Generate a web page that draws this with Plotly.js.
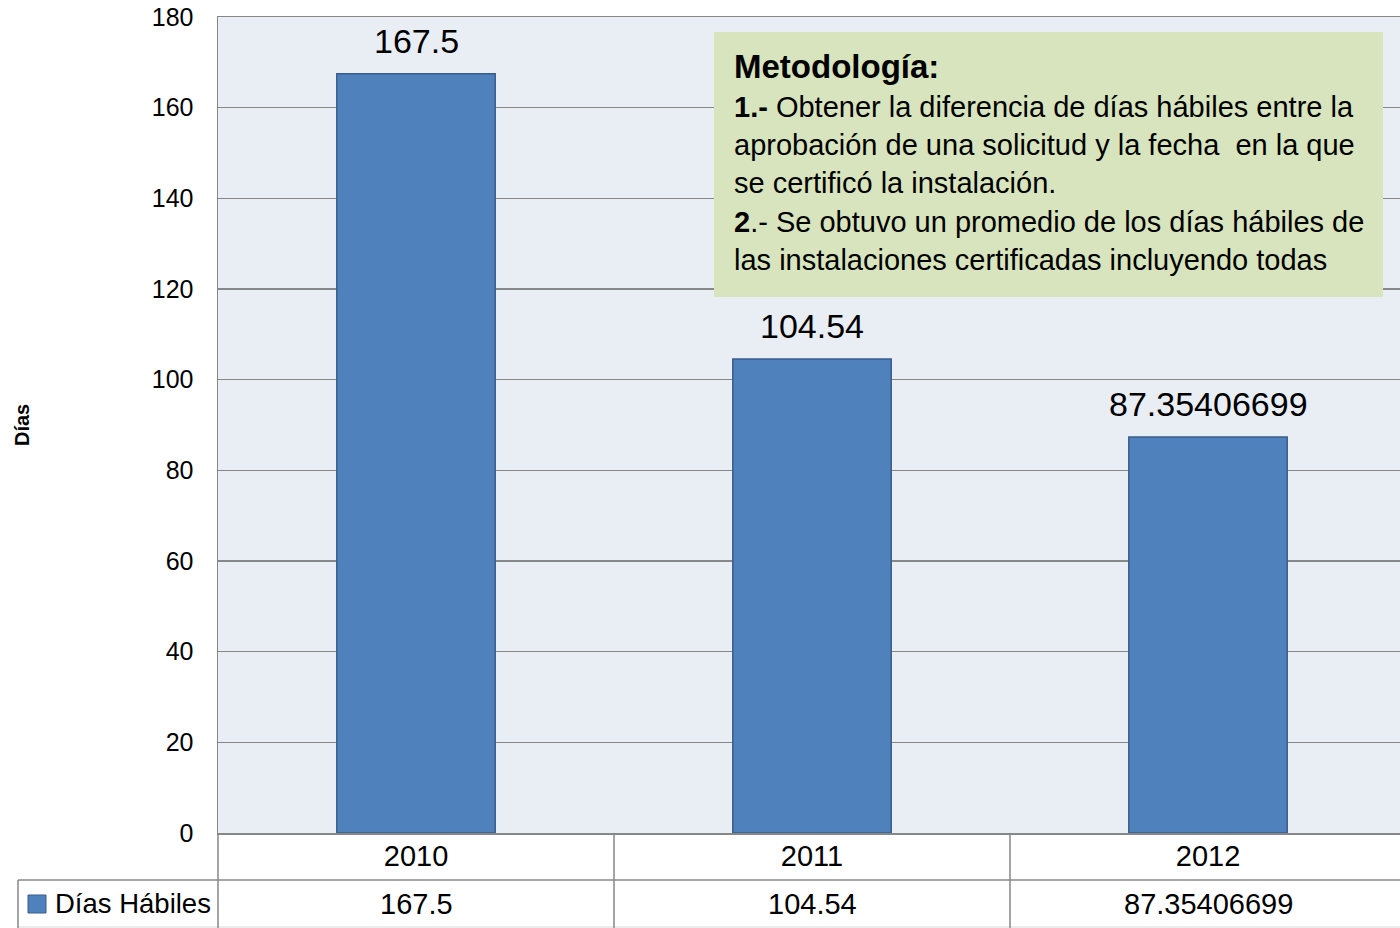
<!DOCTYPE html>
<html>
<head>
<meta charset="utf-8">
<script src="https://cdn.plot.ly/plotly-3.0.1.min.js"></script>
<style>html,body{margin:0;padding:0;background:#fff;}#chart{width:1400px;height:928px;}</style>
</head>
<body>
<div id="chart"></div>
<script>
const categories = ['2010', '2011', '2012'];
const seriesName = 'Días Hábiles';
const values = [167.5, 104.54, 87.35406699];
const valueLabels = ['167.5', '104.54', '87.35406699'];
const yTicks = [0, 20, 40, 60, 80, 100, 120, 140, 160, 180];
const yTitle = 'Días';
const boxTitle = 'Metodología:';
const boxLines = [
  '<b>1.-</b> Obtener la diferencia de días hábiles entre la',
  'aprobación de una solicitud y la fecha  en la que',
  'se certificó la instalación.',
  '<b>2</b>.- Se obtuvo un promedio de los días hábiles de',
  'las instalaciones certificadas incluyendo todas'
];

const W = 1400, H = 928;
const L = 218, T = 17, B = 95, R = 0;
const PW = W - L - R, PH = H - T - B;
const px = x => (x - L) / PW;
const py = y => (H - B - y) / PH;

const FONT = 'Liberation Sans, Arial, sans-serif';
const BAR = '#4F81BD', BAR_LINE = '#385D8A', GRID = '#878787';

const shapes = [];
const annotations = [];

// data table grid
shapes.push({type:'line', xref:'paper', yref:'paper', x0:px(18), x1:1.02, y0:py(880), y1:py(880), line:{color:GRID, width:1.5}});
shapes.push({type:'line', xref:'paper', yref:'paper', x0:px(18), x1:1.02, y0:py(927), y1:py(927), line:{color:'#d9d9d9', width:1}});
shapes.push({type:'line', xref:'paper', yref:'paper', x0:px(18), x1:px(18), y0:py(880), y1:py(928), line:{color:GRID, width:1.5}});
shapes.push({type:'line', xref:'paper', yref:'paper', x0:0, x1:0, y0:0, y1:py(928), line:{color:GRID, width:1.5}});
for (let i = 0; i < categories.length - 1; i++) {
  shapes.push({type:'line', xref:'x', yref:'paper', x0:i + 0.5, x1:i + 0.5, y0:0, y1:py(928), line:{color:GRID, width:1.5}});
}
// legend key in table
shapes.push({type:'rect', xref:'paper', yref:'paper', x0:px(28), x1:px(46), y0:py(895), y1:py(913), fillcolor:BAR, line:{color:BAR_LINE, width:1}});
annotations.push({xref:'paper', yref:'paper', x:px(53), y:py(904), xanchor:'left', yanchor:'middle', text:seriesName, showarrow:false, font:{family:FONT, size:27.5, color:'#000'}});
// values row + bar labels
categories.forEach((c, i) => {
  annotations.push({xref:'x', yref:'paper', x:i, y:py(904), xanchor:'center', yanchor:'middle', text:valueLabels[i], showarrow:false, font:{family:FONT, size:29, color:'#000'}});
  annotations.push({xref:'x', yref:'y', x:i, y:values[i], xanchor:'center', yanchor:'bottom', yshift:12, text:valueLabels[i], showarrow:false, font:{family:FONT, size:34, color:'#000'}});
});
// y title
annotations.push({xref:'paper', yref:'paper', x:px(22), y:py(425), xanchor:'center', yanchor:'middle', textangle:-90, text:'<b>' + yTitle + '</b>', showarrow:false, font:{family:FONT, size:20, color:'#000'}});

// methodology box
shapes.push({type:'rect', xref:'paper', yref:'paper', x0:px(714), x1:px(1383), y0:py(297), y1:py(32), fillcolor:'#D7E4BD', line:{width:0}, layer:'above'});
annotations.push({xref:'paper', yref:'paper', x:px(732), y:py(66), xanchor:'left', yanchor:'middle', text:'<b>' + boxTitle + '</b>', showarrow:false, font:{family:FONT, size:33, color:'#000'}});
const lineY = [107, 145, 183, 222, 260];
boxLines.forEach((t, i) => {
  annotations.push({xref:'paper', yref:'paper', x:px(732), y:py(lineY[i]), xanchor:'left', yanchor:'middle', text:t, showarrow:false, font:{family:FONT, size:29, color:'#000'}});
});

const data = [{
  type:'bar', x:categories, y:values, name:seriesName, width:0.4,
  marker:{color:BAR, line:{color:BAR_LINE, width:1.5}},
  hoverinfo:'x+y'
}];

const layout = {
  width:W, height:H,
  margin:{l:L, r:R, t:T, b:B, pad:0},
  paper_bgcolor:'#ffffff', plot_bgcolor:'#E9EDF4',
  showlegend:false,
  font:{family:FONT, color:'#000'},
  xaxis:{type:'category', categoryorder:'array', categoryarray:categories, range:[-0.5, -0.5 + PW / 396],
    showgrid:false, zeroline:false, showline:true, linecolor:GRID, linewidth:1.5, mirror:true,
    ticks:'', tickfont:{family:FONT, size:29, color:'#000'}, ticklabelstandoff:-3, fixedrange:true},
  yaxis:{range:[0, 180], tickvals:yTicks, showgrid:true, gridcolor:GRID, gridwidth:1.5, zeroline:false,
    showline:true, linecolor:GRID, linewidth:1.5, mirror:true, ticks:'', ticklabelstandoff:18,
    tickfont:{family:FONT, size:25, color:'#000'}, fixedrange:true},
  shapes:shapes, annotations:annotations,
  bargap:0.6
};

Plotly.newPlot('chart', data, layout, {displayModeBar:false, staticPlot:true});
</script>
</body>
</html>
